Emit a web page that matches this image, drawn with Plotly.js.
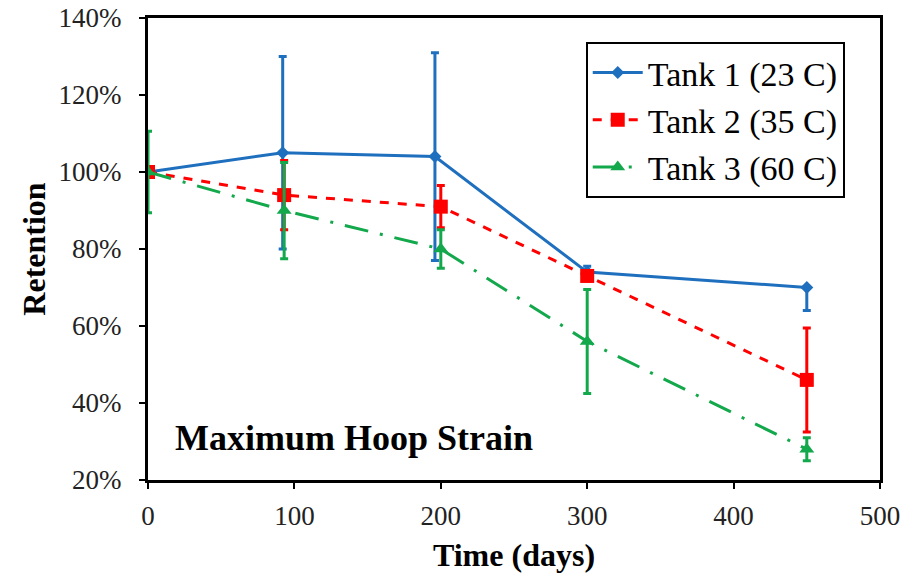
<!DOCTYPE html>
<html><head><meta charset="utf-8">
<script src="https://cdn.plot.ly/plotly-3.0.1.min.js"></script>
<style>body{margin:0;background:#fff}#chart{width:917px;height:579px}</style>
</head><body><div id="chart"></div>
<script>
const seriesNames = ["Tank 1 (23 C)", "Tank 2 (35 C)", "Tank 3 (60 C)"];
const tank1Days = [0, 92, 196, 300, 450];
const tank1Ret = [1.00, 1.05, 1.04, 0.74, 0.70];
const tank1ErrPlus = [0.00, 0.25, 0.27, 0.015, 0.00];
const tank1ErrMinus = [0.00, 0.25, 0.27, 0.00, 0.06];
const tank2Days = [0, 93, 200, 300, 450];
const tank2Ret = [1.00, 0.94, 0.91, 0.73, 0.46];
const tank2Err = [0.00, 0.09, 0.055, 0.00, 0.135];
const tank3Days = [0, 93, 200, 300, 450];
const tank3Ret = [1.00, 0.90, 0.80, 0.56, 0.28];
const tank3Err = [0.106, 0.125, 0.05, 0.135, 0.03];

const blue = "#1f6fbf", red = "#ff0000", green = "#12a84b";
const traces = [
  {x: tank1Days, y: tank1Ret, name: seriesNames[0], mode: "lines+markers",
   line: {color: blue, width: 3}, marker: {symbol: "diamond", size: 10, color: blue},
   error_y: {type: "data", symmetric: false, array: tank1ErrPlus, arrayminus: tank1ErrMinus, color: blue, thickness: 3, width: 4}},
  {x: tank2Days, y: tank2Ret, name: seriesNames[1], mode: "lines+markers",
   line: {color: red, width: 3, dash: "dash"}, marker: {symbol: "square", size: 14, color: red},
   error_y: {type: "data", array: tank2Err, color: red, thickness: 3, width: 4}},
  {x: tank3Days, y: tank3Ret, name: seriesNames[2], mode: "lines+markers",
   line: {color: green, width: 3, dash: "24px,12px,3px,12px"}, marker: {symbol: "triangle-up", size: 13, color: green},
   error_y: {type: "data", array: tank3Err, color: green, thickness: 3, width: 4}}
];
const font = "Liberation Serif, Times New Roman, serif";
const layout = {
  width: 917, height: 579,
  margin: {l: 148, r: 37, t: 18, b: 99},
  paper_bgcolor: "#fff", plot_bgcolor: "#fff",
  font: {family: font, color: "#000", size: 28},
  showlegend: true,
  legend: {x: 0.598, y: 0.948, xanchor: "left", yanchor: "top", bordercolor: "#000", borderwidth: 2,
           bgcolor: "#fff", font: {family: font, size: 34, color: "#000"}, tracegroupgap: 0, itemwidth: 50},
  xaxis: {range: [0, 500], dtick: 100, showgrid: false, zeroline: false, showline: true, linecolor: "#000", linewidth: 3,
          mirror: true, ticks: "outside", ticklen: 6, tickwidth: 2, tickcolor: "#000",
          tickfont: {family: font, size: 27, color: "#222"}, ticklabelstandoff: 4,
          title: {text: "<b>Time (days)</b>", font: {family: font, size: 32}, standoff: 14}},
  yaxis: {range: [0.2, 1.4], dtick: 0.2, tickformat: ".0%", showgrid: false, zeroline: false, showline: true, linecolor: "#000", linewidth: 3,
          mirror: true, ticks: "outside", ticklen: 6, tickwidth: 2, tickcolor: "#000",
          tickfont: {family: font, size: 27, color: "#222"}, ticklabelstandoff: 12,
          title: {text: "<b>Retention</b>", font: {family: font, size: 32}, standoff: 4}},
  annotations: [{xref: "paper", yref: "paper", x: 0.034, y: 0.09, xanchor: "left", yanchor: "middle",
                 text: "<b>Maximum Hoop Strain</b>", showarrow: false, font: {family: font, size: 36, color: "#000"}}]
};
Plotly.newPlot("chart", traces, layout, {displayModeBar: false});
</script></body></html>
